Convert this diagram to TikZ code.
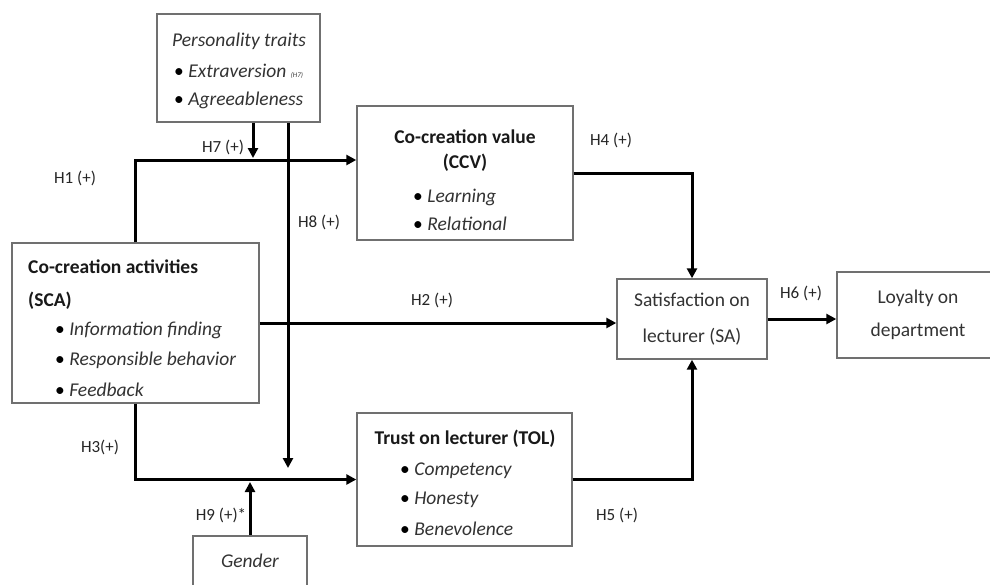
\documentclass[tikz,border=0pt]{standalone}
\usepackage{fontspec}
\setmainfont{Carlito}
\usetikzlibrary{arrows.meta}
\definecolor{boxgray}{HTML}{707070}
\definecolor{txtgray}{HTML}{333333}

\tikzset{
  box/.style={draw=boxgray,line width=1.4pt,inner sep=0pt},
  txt/.style={font=\fontsize{19.5}{24}\selectfont,text=txtgray,inner sep=0pt},
  head/.style={txt,font=\fontsize{19.5}{24}\selectfont\bfseries,text=black!90},
  item/.style={txt,anchor=west},
  hlabel/.style={font=\fontsize{17}{20}\selectfont,text=black!85,inner sep=0pt},
  link/.style={line width=3pt,-{Triangle[length=10pt,width=10pt]}}
}
\newcommand{\bitem}[1]{\textcolor{black}{\textbullet}\ \textit{#1}}

\begin{document}
\begin{tikzpicture}[x=1pt,y=-1pt]
  \clip (0,0) rectangle (990,584);
  \fill[white] (0,0) rectangle (990,584);

  \node[box,minimum width=163,minimum height=108] (pers) at (238.5,68) {};
  \node[item] at (172,41) {\textit{Personality traits}};
  \node[item] at (174,71) {\bitem{Extraversion} {\fontsize{7}{8}\selectfont\textit{(H7)}}};
  \node[item] at (174,100) {\bitem{Agreeableness}};

  \node[box,minimum width=216,minimum height=134] (ccv) at (465,173) {};
  \node[head] at (465,137) {Co-creation value};
  \node[head] at (465,163) {(CCV)};
  \node[item] at (413,197) {\bitem{Learning}};
  \node[item] at (413,224) {\bitem{Relational}};

  \node[box,minimum width=247,minimum height=160] (sca) at (135.5,323) {};
  \node[head,anchor=west] at (28,267) {Co-creation activities};
  \node[head,anchor=west] at (28,301) {(SCA)};
  \node[item] at (55,330) {\bitem{Information finding}};
  \node[item] at (55,360) {\bitem{Responsible behavior}};
  \node[item] at (55,390) {\bitem{Feedback}};

  \node[box,txt,minimum width=150,minimum height=80,align=center,
    font=\fontsize{19.5}{36}\selectfont] (sa) at (692,319)
    {Satisfaction on\\lecturer (SA)};
  \node[box,txt,minimum width=162,minimum height=86,align=center,
    font=\fontsize{19.5}{33}\selectfont] (loyal) at (918,315)
    {Loyalty on\\department};

  \node[box,minimum width=215,minimum height=133] (tol) at (464.5,479.5) {};
  \node[head] at (465,439) {Trust on lecturer (TOL)};
  \node[item] at (400,471) {\bitem{Competency}};
  \node[item] at (400,500) {\bitem{Honesty}};
  \node[item] at (400,529) {\bitem{Benevolence}};

  \node[box,txt,minimum width=114,minimum height=50] (gender) at (250,561)
    {\textit{Gender}};

  \coordinate (h7end) at (253,158);
  \coordinate (h8end) at (288,468);
  \coordinate (h9end) at (250,482);

  \draw[link] (sca.north) |- ([yshift=13pt]ccv.west);
  \draw[link] (pers.south -| h7end) -- (h7end);
  \draw[link] (pers.south -| h8end) -- (h8end);
  \draw[link] (ccv.east) -| (sa.north);
  \draw[link] (sca.east) -- (sca.east -| sa.west);
  \draw[link] (sa.east) -- (sa.east -| loyal.west);
  \draw[link] (sca.south) |- (tol.west);
  \draw[link] (tol.east) -| (sa.south);
  \draw[link] (gender.north) -- (h9end);

  \node[hlabel] at (75,178) {H1 (+)};
  \node[hlabel] at (223,147) {H7 (+)};
  \node[hlabel] at (319,222) {H8 (+)};
  \node[hlabel] at (611,140) {H4 (+)};
  \node[hlabel] at (432,300) {H2 (+)};
  \node[hlabel] at (801,293) {H6 (+)};
  \node[hlabel] at (100,447) {H3(+)};
  \node[hlabel] at (221,515) {H9 (+)*};
  \node[hlabel] at (617,515) {H5 (+)};
\end{tikzpicture}
\end{document}
